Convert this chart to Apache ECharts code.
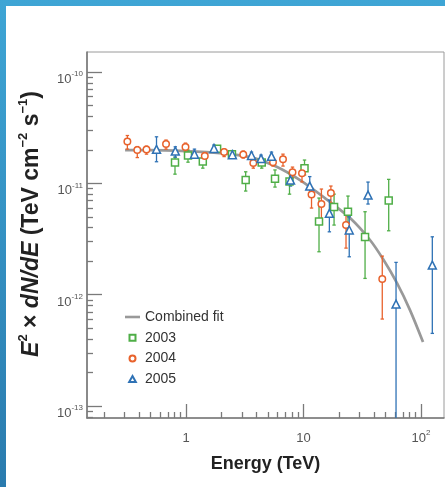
<!DOCTYPE html>
<html>
<head>
<meta charset="utf-8">
<script src="https://cdn.jsdelivr.net/npm/echarts@6/dist/echarts.min.js"></script>
<style>
  html, body { margin: 0; padding: 0; }
  body { width: 445px; height: 487px; position: relative; overflow: hidden;
         background: linear-gradient(to bottom, #3ea5d5, #2a7bae); }
  #panel { position: absolute; left: 6px; top: 6px; right: 0; bottom: 0; background: #fff; }
  #chart { position: absolute; left: 0; top: 0; width: 445px; height: 487px; }
</style>
</head>
<body>
<div id="panel"></div>
<div id="chart"></div>
<script>
// Gamma-ray spectrum E^2 dN/dE of three observing seasons plus the combined fit.
// Fluxes are listed in units of 1e-11 TeV cm^-2 s^-1.
const FLUX_UNIT = 1e-11;

// Axis extents and tick positions
const energyMin = 0.1437, energyMax = 156.9;
const fluxMin = 7.8e-14, fluxMax = 1.514e-10;
const energyMajorTicks = [1, 10, 100];
const energyMinorTicks = [0.2, 0.3, 0.4, 0.5, 0.6, 0.7, 0.8, 0.9,
                          2, 3, 4, 5, 6, 7, 8, 9,
                          20, 30, 40, 50, 60, 70, 80, 90];
const fluxMajorTicks = [1e-13, 1e-12, 1e-11, 1e-10];
const fluxMinorTicks = [8e-14, 9e-14,
                        2e-13, 3e-13, 4e-13, 5e-13, 6e-13, 7e-13, 8e-13, 9e-13,
                        2e-12, 3e-12, 4e-12, 5e-12, 6e-12, 7e-12, 8e-12, 9e-12,
                        2e-11, 3e-11, 4e-11, 5e-11, 6e-11, 7e-11, 8e-11, 9e-11];

// Combined fit
const fitEnergy = [0.303, 0.494, 1.0, 1.95, 3.50, 5.72, 9.34, 15.2, 24.9, 36.8, 47.5, 62.5, 80.6, 104];
const fitFlux   = [1.99, 1.99, 1.95, 1.87, 1.72, 1.43, 1.07, 0.738, 0.488, 0.310, 0.209, 0.127, 0.0727, 0.0375];

// 2003
const energy2003  = [0.806, 1.04, 1.39, 1.84, 2.46, 3.22, 4.41, 5.72, 7.60, 10.2, 13.55, 18.2, 23.9, 33.4, 53.1];
const flux2003    = [1.54, 1.78, 1.57, 2.05, 1.83, 1.07, 1.54, 1.10, 1.04, 1.37, 0.454, 0.612, 0.556, 0.329, 0.70];
const flux2003Lo  = [1.21, 1.55, 1.37, 1.91, 1.69, 0.853, 1.37, 0.926, 0.80, 1.19, 0.243, 0.422, 0.381, 0.140, 0.375];
const flux2003Hi  = [1.72, 1.99, 1.80, 2.16, 1.97, 1.27, 1.69, 1.32, 1.24, 1.62, 0.738, 0.80, 0.769, 0.556, 1.086];

// 2004
const energy2004  = [0.317, 0.385, 0.461, 0.676, 0.99, 1.445, 2.11, 3.07, 3.74, 5.50, 6.69, 8.06, 9.71, 11.7, 14.2, 17.1, 23.0, 46.8];
const flux2004    = [2.38, 1.99, 2.01, 2.255, 2.12, 1.76, 1.91, 1.82, 1.52, 1.55, 1.65, 1.26, 1.23, 0.793, 0.652, 0.818, 0.422, 0.138];
const flux2004Lo  = [2.03, 1.705, 1.83, 2.03, 1.91, 1.62, 1.74, 1.69, 1.37, 1.43, 1.43, 1.12, 1.03, 0.60, 0.431, 0.665, 0.262, 0.0604];
const flux2004Hi  = [2.69, 2.14, 2.16, 2.45, 2.30, 1.89, 2.03, 1.95, 1.65, 1.69, 1.83, 1.40, 1.43, 0.907, 0.889, 0.946, 0.556, 0.222];

// 2005
const energy2005  = [0.561, 0.811, 1.18, 1.73, 2.48, 3.61, 4.35, 5.34, 7.75, 11.3, 16.6, 24.5, 35.4, 61.3, 124.8];
const flux2005    = [2.02, 1.95, 1.83, 2.06, 1.81, 1.78, 1.67, 1.75, 1.07, 0.946, 0.538, 0.381, 0.785, 0.0823, 0.1845];
const flux2005Lo  = [1.564, 1.72, 1.705, 1.93, 1.69, 1.65, 1.55, 1.62, 0.946, 0.769, 0.367, 0.219, 0.652, 0.001, 0.0449];
const flux2005Hi  = [2.62, 2.13, 2.03, 2.21, 1.95, 1.91, 1.795, 1.91, 1.21, 1.15, 0.708, 0.501, 1.027, 0.195, 0.331];

const seasonNames = ['2003', '2004', '2005'];
const seasonColors = ['#4fae47', '#e8622c', '#2f72b5'];
const seasonSymbols = ['rect', 'circle', 'triangle'];
const seasonSizes = [7, 6.5, 8];
const seasons = [
  [energy2003, flux2003, flux2003Lo, flux2003Hi],
  [energy2004, flux2004, flux2004Lo, flux2004Hi],
  [energy2005, flux2005, flux2005Lo, flux2005Hi]
];

const FONT = "'Liberation Sans', Arial, Helvetica, sans-serif";
const AXIS_GREY = '#7a7a7a';
const FIT_GREY = '#999999';

function powerLabel(v) {
  const p = Math.round(Math.log10(v));
  if (p === 0) return '{b|1}';
  if (p === 1) return '{b|10}';
  return '{b|10}{s|' + p + '}';
}

const labelRich = {
  b: { fontFamily: FONT, fontSize: 13, color: '#555', lineHeight: 16, verticalAlign: 'bottom' },
  s: { fontFamily: FONT, fontSize: 8, color: '#555', lineHeight: 9, verticalAlign: 'top' }
};

function errorBarRenderer(color) {
  return function (params, api) {
    const e = api.value(0);
    const lo = api.coord([e, api.value(1)]);
    const hi = api.coord([e, api.value(2)]);
    const cs = params.coordSys;
    const bottom = cs.y + cs.height;
    const cap = 1.7;
    const style = { stroke: color, lineWidth: 1.3 };
    const children = [];
    const yBot = Math.min(lo[1], bottom);
    children.push({ type: 'line', shape: { x1: hi[0], y1: hi[1], x2: hi[0], y2: yBot }, style: style });
    children.push({ type: 'line', shape: { x1: hi[0] - cap, y1: hi[1], x2: hi[0] + cap, y2: hi[1] }, style: style });
    if (lo[1] <= bottom) {
      children.push({ type: 'line', shape: { x1: lo[0] - cap, y1: lo[1], x2: lo[0] + cap, y2: lo[1] }, style: style });
    }
    return { type: 'group', children: children };
  };
}

const series = [{
  name: 'Combined fit',
  type: 'line',
  data: fitEnergy.map((e, i) => [e, fitFlux[i] * FLUX_UNIT]),
  smooth: 0.3,
  symbol: 'none',
  showSymbol: false,
  lineStyle: { color: FIT_GREY, width: 2.7 },
  itemStyle: { color: FIT_GREY },
  z: 1,
  silent: true
}];

seasons.forEach((s, k) => {
  const [en, fl, lo, hi] = s;
  series.push({
    name: seasonNames[k] + ' errors',
    type: 'custom',
    renderItem: errorBarRenderer(seasonColors[k]),
    data: en.map((e, i) => [e, lo[i] * FLUX_UNIT, hi[i] * FLUX_UNIT]),
    encode: { x: 0, y: [1, 2] },
    z: 2,
    silent: true
  });
});
seasons.forEach((s, k) => {
  const [en, fl] = s;
  series.push({
    name: seasonNames[k],
    type: 'scatter',
    data: en.map((e, i) => [e, fl[i] * FLUX_UNIT]),
    symbol: seasonSymbols[k],
    symbolSize: seasonSizes[k],
    itemStyle: { color: '#fff', borderColor: seasonColors[k], borderWidth: 1.5, opacity: 1 },
    z: 3,
    silent: true
  });
});

const chart = echarts.init(document.getElementById('chart'), null, { renderer: 'canvas' });
chart.setOption({
  animation: false,
  backgroundColor: 'transparent',
  grid: {
    left: 87, right: 1, top: 52, bottom: 69,
    show: true, borderColor: '#9a9a9a', borderWidth: 1,
    containLabel: false, outerBoundsMode: 'none'
  },
  legend: {
    orient: 'vertical',
    left: 125, top: 310,
    padding: 0,
    itemWidth: 15, itemHeight: 6, itemGap: 6.7,
    symbolKeepAspect: true,
    data: [
      { name: 'Combined fit', icon: 'path://M0,0H15V2.6H0Z' },
      { name: '2003', icon: 'path://M0,0H10V10H0Z' },
      { name: '2004', icon: 'circle' },
      { name: '2005', icon: 'path://M5,0L10,9H0Z' }
    ],
    textStyle: { fontFamily: FONT, fontSize: 14, color: '#333' },
    selectedMode: false
  },
  xAxis: [{
    type: 'log', logBase: 10,
    min: energyMin, max: energyMax,
    position: 'bottom',
    name: 'Energy (TeV)', nameLocation: 'middle', nameGap: 37,
    nameTextStyle: { fontFamily: FONT, fontWeight: 'bold', fontSize: 18, color: '#222' },
    axisLine: { show: true, lineStyle: { color: AXIS_GREY, width: 1.6 } },
    axisTick: { show: true, inside: true, length: 14, customValues: energyMajorTicks,
                lineStyle: { color: AXIS_GREY, width: 1.3 } },
    axisLabel: { show: true, margin: 11, customValues: energyMajorTicks,
                 formatter: powerLabel, rich: labelRich },
    minorTick: { show: false },
    splitLine: { show: false }
  }, {
    type: 'log', logBase: 10,
    min: energyMin, max: energyMax,
    position: 'bottom',
    axisLine: { show: false },
    axisTick: { show: true, inside: true, length: 6, customValues: energyMinorTicks,
                lineStyle: { color: AXIS_GREY, width: 1.3 } },
    axisLabel: { show: false },
    splitLine: { show: false }
  }],
  yAxis: [{
    type: 'log', logBase: 10,
    min: fluxMin, max: fluxMax,
    position: 'left',
    name: '{i|E}{s|2}{n| × }{i|dN/dE}{n| (TeV cm}{s|−2}{n| s}{s|−1}{n|)}',
    nameLocation: 'middle', nameGap: 44, nameRotate: 90,
    nameTextStyle: {
      padding: [0, 0, 0, 22],
      rich: {
        n: { fontFamily: FONT, fontWeight: 'bold', fontSize: 23, color: '#222', lineHeight: 26, verticalAlign: 'bottom' },
        i: { fontFamily: FONT, fontWeight: 'bold', fontStyle: 'italic', fontSize: 23, color: '#222', lineHeight: 26, verticalAlign: 'bottom' },
        s: { fontFamily: FONT, fontWeight: 'bold', fontSize: 13, color: '#222', lineHeight: 14, verticalAlign: 'top' }
      }
    },
    axisLine: { show: true, lineStyle: { color: AXIS_GREY, width: 1.6 } },
    axisTick: { show: true, inside: true, length: 15, customValues: fluxMajorTicks,
                lineStyle: { color: AXIS_GREY, width: 1.3 } },
    axisLabel: { show: true, margin: 4, customValues: fluxMajorTicks,
                 formatter: powerLabel, rich: labelRich, padding: [12, 0, 0, 0] },
    splitLine: { show: false }
  }, {
    type: 'log', logBase: 10,
    min: fluxMin, max: fluxMax,
    position: 'left',
    axisLine: { show: false },
    axisTick: { show: true, inside: true, length: 6, customValues: fluxMinorTicks,
                lineStyle: { color: AXIS_GREY, width: 1.3 } },
    axisLabel: { show: false },
    splitLine: { show: false }
  }],
  series: series
});
</script>
</body>
</html>
